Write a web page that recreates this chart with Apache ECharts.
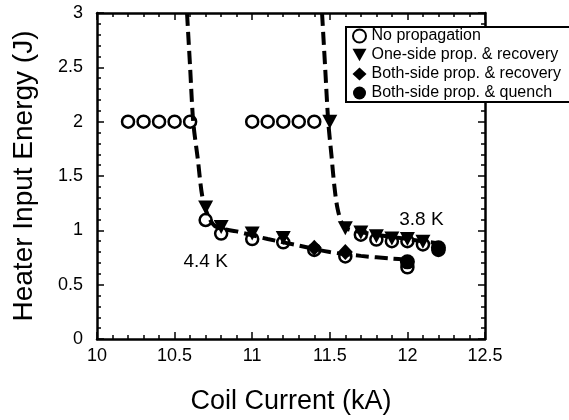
<!DOCTYPE html>
<html>
<head>
<meta charset="utf-8">
<script src="https://cdn.jsdelivr.net/npm/echarts@6/dist/echarts.min.js"></script>
<style>
  html, body { margin: 0; padding: 0; background: #fff; }
  #main { width: 569px; height: 420px; }
</style>
</head>
<body>
<div id="main"></div>
<script>
// tick labels
var xTicks = [10, 10.5, 11, 11.5, 12, 12.5]
var yTicks = [0, 0.5, 1, 1.5, 2, 2.5, 3]

// no propagation (open circles)
var noPropX = [10.2, 10.3, 10.4, 10.5, 10.6, 11.0, 11.1, 11.2, 11.3, 11.4,
  10.7, 10.8, 11.0, 11.2, 11.4, 11.6, 12.0,
  11.7, 11.8, 11.9, 12.0, 12.1, 12.2]
var noPropY = [2, 2, 2, 2, 2, 2, 2, 2, 2, 2,
  1.095, 0.97, 0.92, 0.89, 0.82, 0.76, 0.66,
  0.96, 0.915, 0.9, 0.9, 0.87, 0.82]

// one-side prop. & recovery (down triangles)
var oneSideX = [10.7, 10.8, 11.0, 11.2, 11.5, 11.6, 11.7, 11.8, 11.9, 12.0, 12.1]
var oneSideY = [1.21, 1.03, 0.97, 0.93, 2.0, 1.02, 0.98, 0.945, 0.925, 0.92, 0.895]

// both-side prop. & recovery (diamonds)
var bothRecX = [11.4, 11.6]
var bothRecY = [0.84, 0.8]

// both-side prop. & quench (filled circles)
var bothQuX = [12.0, 12.2]
var bothQuY = [0.71, 0.84]

// dashed threshold curves
var curve44X = [10.58, 10.6, 10.62, 10.65, 10.68, 10.72, 10.77, 10.9, 11.1, 11.3, 11.5, 11.7, 11.9, 12.0]
var curve44Y = [3.0, 2.5, 2.0, 1.65, 1.3, 1.12, 1.03, 0.99, 0.92, 0.86, 0.8, 0.765, 0.74, 0.73]
var curve38X = [11.45, 11.47, 11.49, 11.51, 11.53, 11.55, 11.58, 11.62, 11.8, 12.0, 12.2]
var curve38Y = [3.0, 2.5, 2.0, 1.7, 1.4, 1.2, 1.06, 1.01, 0.96, 0.92, 0.88]

// temperature annotations
var noteText = ['4.4 K', '3.8 K']
var noteX = [10.7, 12.09]
var noteY = [0.71, 1.1]

var legendNames = ['No propagation', 'One-side prop. & recovery',
  'Both-side prop. & recovery', 'Both-side prop. & quench']

function pairs(xs, ys) {
  var out = []
  for (let i = 0; i < xs.length; i++) {
    out.push([xs[i], ys[i]])
  }
  return out
}

var FONT = 'Liberation Sans, Arial, sans-serif'
var TRI_DOWN = 'path://M0,0 L10,0 L5,9 Z'

var chart = echarts.init(document.getElementById('main'))

var xBase = {
  type: 'value', min: 10, max: 12.5, interval: 0.5,
  axisLine: { show: true, onZero: false, lineStyle: { color: '#000', width: 2.5 } },
  axisTick: { show: true, inside: true, length: 7, lineStyle: { color: '#000', width: 1.5 } },
  minorTick: { show: true, splitNumber: 5, length: 4, lineStyle: { color: '#000', width: 1.5 } },
  splitLine: { show: false }
}
var yBase = {
  type: 'value', min: 0, max: 3, interval: 0.5,
  axisLine: { show: true, onZero: false, lineStyle: { color: '#000', width: 2.5 } },
  axisTick: { show: true, inside: true, length: 7, lineStyle: { color: '#000', width: 1.5 } },
  minorTick: { show: true, splitNumber: 5, length: 4, lineStyle: { color: '#000', width: 1.5 } },
  splitLine: { show: false }
}

var option = {
  backgroundColor: '#fff',
  animation: false,
  grid: { left: 97, right: 84, top: 13, bottom: 77 },
  xAxis: [
    Object.assign({}, xBase, {
      position: 'bottom',
      name: 'Coil Current (kA)', nameLocation: 'middle', nameGap: 49,
      nameTextStyle: { fontSize: 27, color: '#000', fontFamily: FONT },
      axisLabel: {
        fontSize: 18, color: '#000', fontFamily: FONT, margin: 8,
        formatter: function (v) { return xTicks.indexOf(v) >= 0 ? String(v) : '' }
      }
    }),
    Object.assign({}, xBase, { position: 'top', axisLabel: { show: false } })
  ],
  yAxis: [
    Object.assign({}, yBase, {
      position: 'left',
      name: 'Heater Input Energy (J)', nameLocation: 'middle', nameGap: 59,
      nameTextStyle: { fontSize: 28, color: '#000', fontFamily: FONT },
      axisLabel: {
        fontSize: 18, color: '#000', fontFamily: FONT, margin: 14,
        formatter: function (v) { return yTicks.indexOf(v) >= 0 ? String(v) : '' }
      }
    }),
    Object.assign({}, yBase, { position: 'right', axisLabel: { show: false } })
  ],
  legend: {
    data: legendNames,
    orient: 'vertical',
    left: 346, top: 27,
    padding: [1, 40, 1, 6],
    itemGap: 3,
    itemWidth: 14, itemHeight: 13,
    borderColor: '#000', borderWidth: 2,
    backgroundColor: '#fff',
    z: 20,
    textStyle: { fontSize: 16, color: '#000', fontFamily: FONT, lineHeight: 16 }
  },
  series: [
    {
      name: 'No propagation', type: 'scatter', data: pairs(noPropX, noPropY),
      symbol: 'circle', symbolSize: 12,
      itemStyle: { color: '#fff', borderColor: '#000', borderWidth: 2.5, opacity: 1 }
    },
    {
      name: 'curve44', type: 'line', data: pairs(curve44X, curve44Y),
      smooth: 0.3, symbol: 'none', clip: true,
      lineStyle: { color: '#000', width: 4, type: [13, 6] }
    },
    {
      name: 'curve38', type: 'line', data: pairs(curve38X, curve38Y),
      smooth: 0.3, symbol: 'none', clip: true,
      lineStyle: { color: '#000', width: 4, type: [13, 6] }
    },
    {
      name: 'One-side prop. & recovery', type: 'scatter', data: pairs(oneSideX, oneSideY),
      symbol: TRI_DOWN, symbolSize: [15, 14],
      itemStyle: { color: '#000', opacity: 1 }
    },
    {
      name: 'Both-side prop. & recovery', type: 'scatter', data: pairs(bothRecX, bothRecY),
      symbol: 'diamond', symbolSize: [15, 16],
      itemStyle: { color: '#000', opacity: 1 }
    },
    {
      name: 'Both-side prop. & quench', type: 'scatter', data: pairs(bothQuX, bothQuY),
      symbol: 'circle', symbolSize: 15,
      itemStyle: { color: '#000', opacity: 1 }
    },
    {
      name: 'notes', type: 'scatter', symbolSize: 0, silent: true,
      itemStyle: { opacity: 1 },
      data: noteText.map(function (t, i) { return { name: t, value: [noteX[i], noteY[i]] } }),
      label: {
        show: true, position: 'inside', formatter: '{b}',
        fontSize: 19, color: '#000', fontFamily: FONT
      }
    }
  ]
}

chart.setOption(option)
</script>
</body>
</html>
